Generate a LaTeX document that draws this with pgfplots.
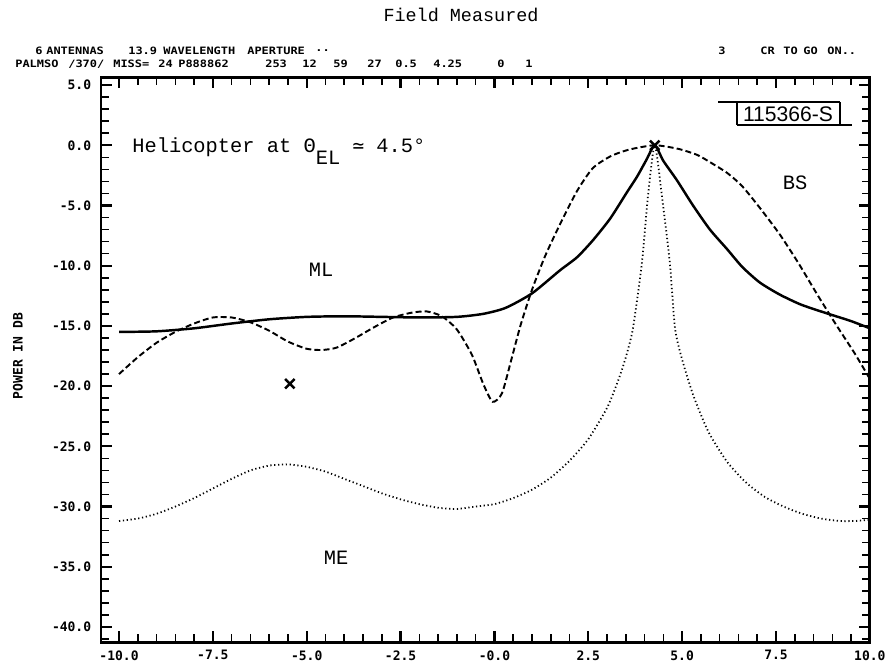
\documentclass[border=0pt]{standalone}
\usepackage{fontspec}
\setmainfont{Liberation Serif}
\newfontfamily\monofont{Liberation Mono}
\newfontfamily\plotfam{DejaVu Sans Mono}
\newfontfamily\labfont{Liberation Sans}
\usepackage{pgfplots}
\pgfplotsset{compat=1.18}
\newcommand\pf{\plotfam\bfseries\fontsize{7.4}{8}\selectfont}
\newcommand\hf{\plotfam\bfseries\fontsize{6.8}{8}\selectfont}
\newcommand\tw{\monofont\fontsize{11.6}{13}\selectfont}
\newcommand\hdr[3]{\node[anchor=west,inner sep=0pt,font=\hf] at (#1,#2) {\scalebox{1}[0.85]{#3}};}

\pgfplotstableread{
x y
-10.0 -15.5
-9.0 -15.45
-8.0 -15.2
-7.0 -14.8
-6.0 -14.45
-5.0 -14.25
-4.0 -14.2
-3.0 -14.25
-2.0 -14.3
-1.0 -14.25
-0.3 -14.0
0.3 -13.5
1.0 -12.3
1.74 -10.4
2.2 -9.3
2.62 -7.9
3.08 -6.1
3.53 -3.9
3.8 -2.6
4.05 -1.2
4.27 0
4.5 -1.3
4.86 -2.9
5.29 -5.0
5.74 -7.0
6.19 -8.6
6.6 -10.1
7.07 -11.4
7.6 -12.4
8.14 -13.2
8.6 -13.7
9.1 -14.2
9.5 -14.6
10.0 -15.2
}\mltable

\pgfplotstableread{
x y
-10.0 -19.0
-9.5 -17.6
-9.0 -16.4
-8.5 -15.5
-8.0 -14.8
-7.5 -14.3
-7.0 -14.3
-6.5 -14.7
-6.0 -15.4
-5.5 -16.3
-5.0 -16.9
-4.6 -17.0
-4.2 -16.8
-3.7 -16.0
-3.2 -15.1
-2.7 -14.3
-2.2 -13.9
-1.8 -13.8
-1.4 -14.2
-1.0 -15.3
-0.6 -17.4
-0.3 -19.8
-0.05 -21.3
0.2 -20.6
0.45 -17.8
0.7 -14.9
1.0 -12.0
1.35 -9.2
1.74 -6.6
2.2 -3.8
2.62 -1.9
3.1 -0.9
3.6 -0.35
4.27 0
4.9 -0.3
5.4 -0.8
5.74 -1.4
6.2 -2.3
6.6 -3.4
7.07 -5.2
7.6 -7.4
8.1 -9.8
8.6 -12.4
9.1 -14.9
9.6 -17.3
10.0 -19.4
}\bstable

\pgfplotstableread{
x y
-10.0 -31.2
-9.5 -31.0
-9.0 -30.6
-8.5 -30.0
-8.0 -29.3
-7.5 -28.5
-7.0 -27.7
-6.5 -27.0
-6.0 -26.6
-5.5 -26.5
-5.0 -26.7
-4.5 -27.1
-4.0 -27.7
-3.5 -28.3
-3.0 -28.9
-2.5 -29.4
-2.0 -29.8
-1.5 -30.1
-1.0 -30.2
-0.5 -30.0
0.0 -29.8
0.5 -29.3
1.0 -28.6
1.5 -27.6
2.0 -26.2
2.5 -24.4
3.0 -21.8
3.3 -19.5
3.5 -17.6
3.69 -15.2
3.93 -9.7
4.09 -4.2
4.27 0
4.46 -4.2
4.67 -9.7
4.81 -15.2
5.0 -17.8
5.3 -20.8
5.7 -23.8
6.2 -26.3
6.7 -28.0
7.2 -29.2
7.7 -30.0
8.2 -30.6
8.7 -31.0
9.2 -31.2
9.6 -31.2
10.0 -31.1
}\metable

\begin{document}
\begin{tikzpicture}[x=0.02cm,y=-0.02cm]
\path[use as bounding box] (0,0) rectangle (895,667);
\coordinate (SW) at (101,642);
\begin{axis}[
  at={(SW)}, anchor=south west,
  scale only axis, width=15.38cm, height=11.3cm,
  xmin=-10.48, xmax=10, ymin=-41.25, ymax=5.66,
  axis line style={line width=1.7pt},
  tick align=inside,
  major tick length=0.22cm, minor tick length=0.16cm,
  every tick/.style={black},
  major tick style={line width=1.3pt},
  minor tick style={line width=0.9pt},
  xtick={-10,-7.5,...,10},
  xticklabels={-10.0,-7.5,-5.0,-2.5,-0.0,2.5,5.0,7.5,10.0},
  minor xtick={-10,-9.5,...,10},
  ytick={-40,-35,...,5},
  yticklabels={-40.0,-35.0,-30.0,-25.0,-20.0,-15.0,-10.0,-5.0,0.0,5.0},
  minor ytick={-41,-40,...,5},
  xticklabel style={font=\pf, inner sep=0pt, anchor=north, yshift=-0.16cm},
  yticklabel style={font=\pf, inner sep=0pt, anchor=east, xshift=-0.19cm},
]
\addplot[black, line width=1.4pt, smooth, tension=0.4] table[x=x,y=y] {\mltable};
\addplot[black, line width=1.1pt, smooth, tension=0.4, dash pattern=on 3.4pt off 1.8pt] table[x=x,y=y] {\bstable};
\addplot[black, line width=1pt, smooth, tension=0.4, dash pattern=on 0.7pt off 1.5pt] table[x=x,y=y] {\metable};
\addplot[only marks, mark=x, mark size=3.8pt, mark options={line width=1.4pt}, black] coordinates {(-5.45,-19.8) (4.27,0)};
\end{axis}
\node[font=\monofont\fontsize{10.5}{12}\selectfont] at (461,15) {Field Measured};
\hdr{35}{51}{6}
\hdr{46}{51}{ANTENNAS}
\hdr{128}{51}{13.9}
\hdr{163}{51}{WAVELENGTH}
\hdr{247}{51}{APERTURE}
\hdr{315}{51}{..}
\hdr{718}{51}{3}
\hdr{760}{51}{CR}
\hdr{783}{51}{TO}
\hdr{803}{51}{GO}
\hdr{827}{51}{ON..}
\hdr{15}{64}{PALMSO}
\hdr{68}{64}{/370/}
\hdr{113}{64}{MISS=}
\hdr{158}{64}{24}
\hdr{178}{64}{P888862}
\hdr{265}{64}{253}
\hdr{302}{64}{12}
\hdr{333}{64}{59}
\hdr{367}{64}{27}
\hdr{395}{64}{0.5}
\hdr{433}{64}{4.25}
\hdr{497}{64}{0}
\hdr{525}{64}{1}
\node[rotate=90,font=\pf] at (18,356) {POWER IN DB};
\node[anchor=base west,inner sep=0pt,font=\tw] at (132,152) {Helicopter at Θ\raisebox{-7pt}{EL} {\plotfam\fontsize{11}{13}\selectfont ≃} 4.5°};
\node[font=\tw] at (321,270) {ML};
\node[font=\tw] at (795,183) {BS};
\node[font=\tw] at (336,558) {ME};
\draw[line width=0.6pt] (718,102) -- (840,102) (737,125) -- (852,125) (737,102) -- (737,125) (840,102) -- (840,125);
\node[font=\labfont\fontsize{12}{14}\selectfont] at (788,114) {115366-S};
\end{tikzpicture}
\end{document}
